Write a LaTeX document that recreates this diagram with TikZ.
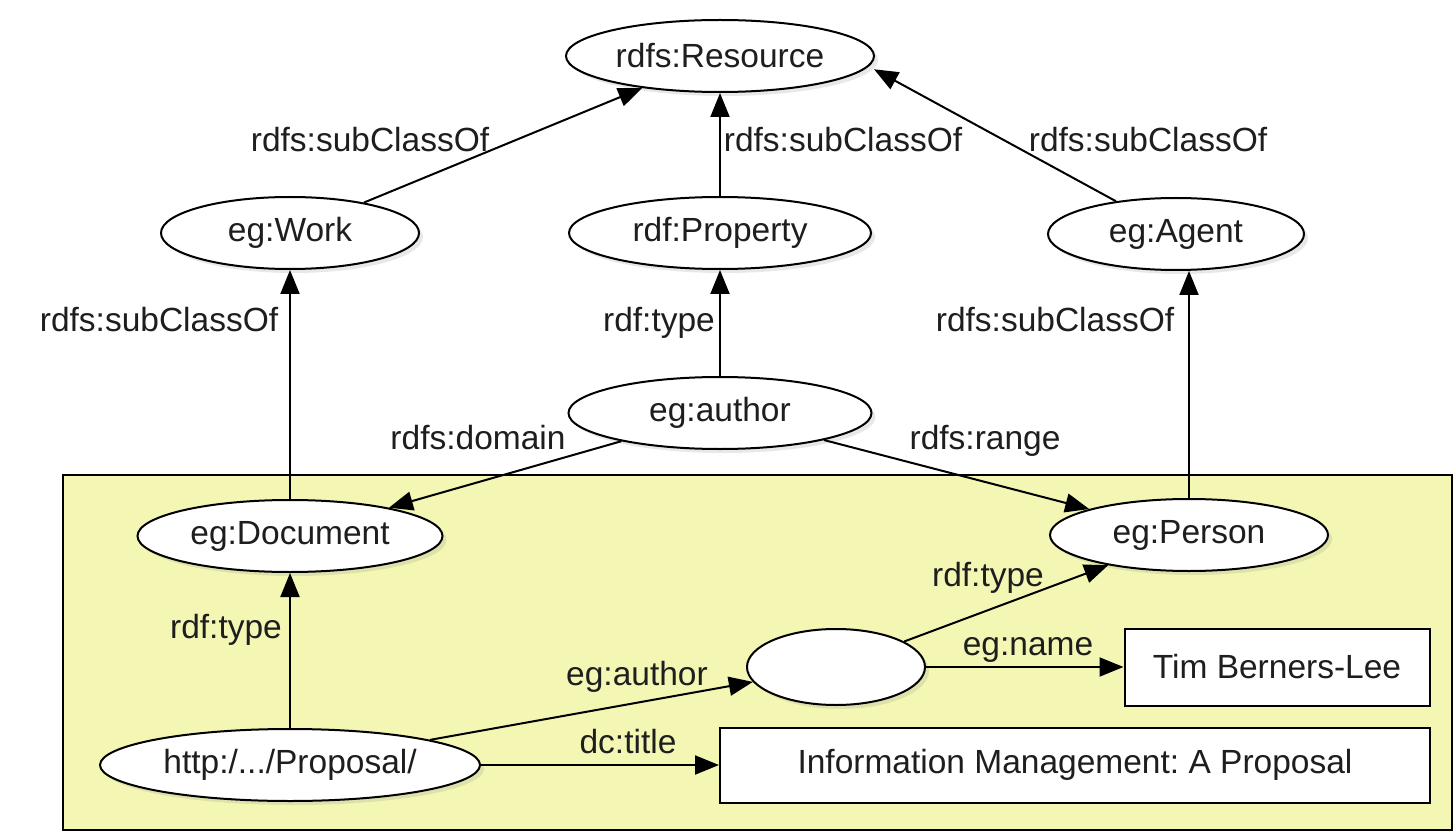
\documentclass[tikz,border=0pt]{standalone}
\usepackage{fontspec}
\setmainfont{Liberation Sans}
\usetikzlibrary{arrows.meta,shapes.geometric,shadows}
\definecolor{yellowbg}{RGB}{244,247,180}
\definecolor{txt}{RGB}{30,30,30}
\frenchspacing
\begin{document}
\begin{tikzpicture}[x=1pt,y=-1pt,
  every node/.style={font=\fontsize{33.5}{40}\selectfont, text=txt},
  ell/.style={ellipse, draw, line width=2pt, fill=white, inner sep=0pt, minimum height=72pt,
    drop shadow={shadow xshift=4pt, shadow yshift=-4pt, opacity=0.18}},
  lit/.style={rectangle, draw, line width=2pt, fill=white, inner sep=0pt},
  rel/.style={draw, line width=2pt, -{Triangle[length=24pt,width=19pt]}},
  lab/.style={inner sep=0pt, text height=24pt, text depth=7pt}
]
\path[use as bounding box, fill=white] (0,0) rectangle (1456,834);
\draw[line width=2pt, fill=yellowbg] (63,475) rectangle (1452,830);

\node[ell, minimum width=308pt] (res) at (720,56) {rdfs:Resource};
\node[ell, minimum width=258pt] (work) at (290,233) {eg:Work};
\node[ell, minimum width=302pt] (prop) at (720,233) {rdf:Property};
\node[ell, minimum width=256pt] (agent) at (1176,234) {eg:Agent};
\node[ell, minimum width=303pt] (author) at (720,413) {eg:author};
\node[ell, minimum width=305pt] (doc) at (290,536) {eg:Document};
\node[ell, minimum width=278pt] (person) at (1189,535) {eg:Person};
\node[ell, minimum width=178pt, minimum height=76pt] (blank) at (836,667) {};
\node[ell, minimum width=380pt] (url) at (290,765) {http:/.../Proposal/};
\node[lit, minimum width=305pt, minimum height=77pt] (tbl) at (1277,667) {Tim Berners-Lee};
\node[lit, minimum width=710pt, minimum height=75pt] (title) at (1075,765) {Information Management: A Proposal};

\draw[rel] (work) -- (res);
\draw[rel] (prop) -- (res);
\draw[rel, shorten >=6pt] (agent) -- (res.356);
\draw[rel] (doc) -- (work);
\draw[rel] (author) -- (prop);
\draw[rel] (person.north) -- (person.north |- agent.south);
\draw[rel] (author) -- (doc);
\draw[rel] (author) -- (person);
\draw[rel] (url) -- (doc);
\draw[rel] (url) -- (blank);
\draw[rel] (url) -- (title);
\draw[rel] (blank) -- (person);
\draw[rel] (blank) -- (tbl);

\node[lab] (l1) at (370,143) {rdfs:subClassOf};
\node[lab] (l2) at (843,143) {rdfs:subClassOf};
\node[lab] (l3) at (1148,143) {rdfs:subClassOf};
\node[lab] (l4) at (159,323) {rdfs:subClassOf};
\node[lab] (l5) at (659,323) {rdf:type};
\node[lab] (l6) at (1055,323) {rdfs:subClassOf};
\node[lab] (l7) at (478,441) {rdfs:domain};
\node[lab] (l8) at (985,441) {rdfs:range};
\node[lab] (l9) at (226,630) {rdf:type};
\node[lab] (l10) at (988,578) {rdf:type};
\node[lab] (l11) at (1028,647) {eg:name};
\node[lab] (l12) at (637,677) {eg:author};
\node[lab] (l13) at (628,745) {dc:title};
\end{tikzpicture}
\end{document}
